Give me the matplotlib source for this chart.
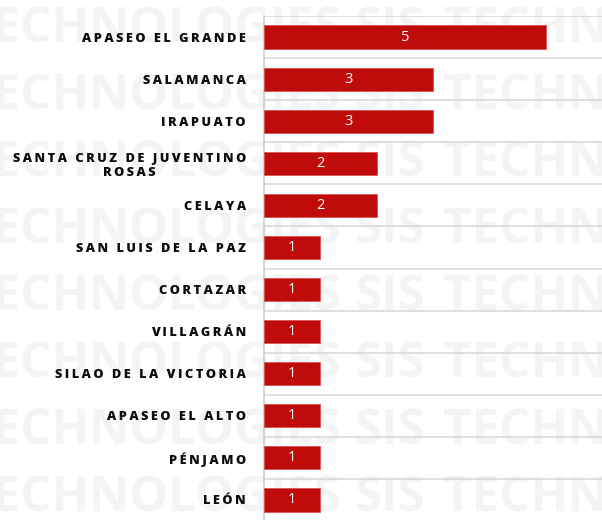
import matplotlib
matplotlib.use("Agg")
import matplotlib.pyplot as plt
from matplotlib import font_manager
import numpy as np

categories = ["APASEO EL GRANDE", "SALAMANCA", "IRAPUATO",
              "SANTA CRUZ DE JUVENTINO\nROSAS", "CELAYA", "SAN LUIS DE LA PAZ",
              "CORTAZAR", "VILLAGRÁN", "SILAO DE LA VICTORIA", "APASEO EL ALTO",
              "PÉNJAMO", "LEÓN"]
values = [5, 3, 3, 2, 2, 1, 1, 1, 1, 1, 1, 1]

plt.rcParams['font.family'] = ['Open Sans', 'DejaVu Sans']

W, H = 602, 520
fig = plt.figure(figsize=(W / 100, H / 100), dpi=100)
fig.patch.set_facecolor('white')

# watermark font: narrow bold if available
try:
    font_manager.findfont(font_manager.FontProperties(family='Liberation Sans Narrow',
                                                      weight='bold'),
                          fallback_to_default=False)
    wm_family, wm_size = 'Liberation Sans Narrow', 40.3
except Exception:
    wm_family, wm_size = 'Open Sans', 35.5

wm_color = '#f4f4f4'
for base in [42, 109, 176, 243, 310, 377, 444, 511]:
    yb = 1 - base / H
    kw = dict(va='baseline', fontsize=wm_size, fontweight='bold', color=wm_color,
              zorder=-5, family=wm_family)
    fig.text(341 / W, yb, "TECHNOLOGIES", ha='right', **kw)
    fig.text(355 / W, yb, "SIS", ha='left', **kw)
    fig.text(443 / W, yb, "TECHNOLOGIES", ha='left', **kw)

ax = fig.add_axes([264 / W, -1 / H, (W - 264) / W, (H - 15) / H])
ax.patch.set_alpha(0)

y = np.arange(len(categories))
bars = ax.barh(y, values, height=0.55, color='#C00B0B', edgecolor='#d84a4a',
               linewidth=0.5, zorder=3)
ax.bar_label(bars, label_type='center', color='white', fontsize=10.5)

ax.set_xlim(0, 6)
ax.set_ylim(len(categories) - 0.5, -0.5)

def spaced(s):
    return "\n".join("\u2009".join(list(line)) for line in s.split("\n"))

ax.set_yticks(y)
ax.set_yticklabels([spaced(c) for c in categories], fontsize=9.2,
                   fontweight='heavy', color='#0d0d0d', multialignment='center')
ax.tick_params(axis='y', length=0, pad=13)
ax.set_xticks([])
ax.set_yticks(np.arange(-0.5, len(categories) - 1, 1), minor=True)
ax.tick_params(axis='y', which='minor', length=0)
ax.grid(axis='y', which='minor', color='#d9d9d9', linewidth=1.2, zorder=1)
ax.grid(axis='y', which='major', visible=False)

for s in ['top', 'right', 'bottom']:
    ax.spines[s].set_visible(False)
ax.spines['left'].set_color('#d0d0d0')
ax.spines['left'].set_linewidth(1.3)

fig.savefig('out.png', dpi=100)
